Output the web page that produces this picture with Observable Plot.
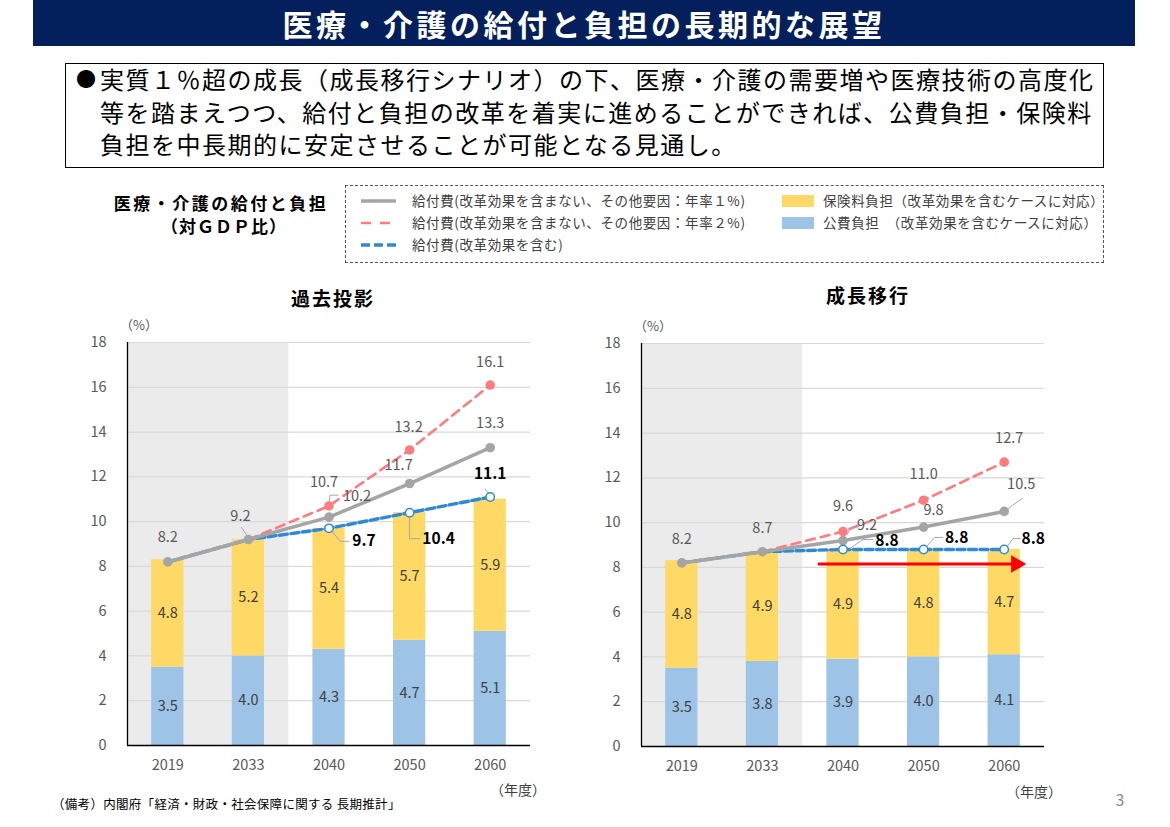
<!DOCTYPE html>
<html lang="ja">
<head>
<meta charset="utf-8">
<script src="https://cdn.jsdelivr.net/npm/d3@7"></script>
<script src="https://cdn.jsdelivr.net/npm/@observablehq/plot@0.6"></script>
<style>
  body { margin: 0; background: #fff; font-family: "Noto Sans CJK JP", "Noto Sans", sans-serif; }
  #page { position: relative; width: 1170px; height: 827px; overflow: hidden; background: #fff; }
  .t { position: absolute; white-space: nowrap; line-height: 1; }
  .c { transform: translateX(-50%); }
  #banner { position: absolute; left: 33px; top: 0; width: 1102px; height: 46px; background: #03205c;
            display: flex; align-items: center; justify-content: center; }
  #banner h1 { margin: 0; font-size: 30px; line-height: 40px; font-weight: bold; color: #fff; letter-spacing: 3.5px; white-space: nowrap; }
  #summary { position: absolute; left: 65px; top: 63px; width: 1037px; height: 103px; border: 1px solid #000; }
  #legend { position: absolute; left: 345px; top: 185px; width: 757px; height: 76px; border: 1px dashed #555; }
  .plot { position: absolute; }
</style>
</head>
<body>
<div id="page">
  <div id="banner"><h1>医療・介護の給付と負担の長期的な展望</h1></div>

  <div id="summary"></div>
  <div class="t" style="left:76px;top:69px;font-size:20px;color:#000;">●</div>
  <div class="t" style="left:100px;top:67px;font-size:24px;letter-spacing:1.5px;color:#000;">実質１％超の成長（成長移行シナリオ）の下、医療・介護の需要増や医療技術の高度化</div>
  <div class="t" style="left:100px;top:100px;font-size:24px;letter-spacing:1.5px;color:#000;">等を踏まえつつ、給付と負担の改革を着実に進めることができれば、公費負担・保険料</div>
  <div class="t" style="left:100px;top:132px;font-size:24px;letter-spacing:1.5px;color:#000;">負担を中長期的に安定させることが可能となる見通し。</div>

  <div class="t c" style="left:221px;top:194px;font-size:17px;font-weight:bold;letter-spacing:2.5px;">医療・介護の給付と負担</div>
  <div class="t c" style="left:224px;top:217px;font-size:17px;font-weight:bold;letter-spacing:1px;">（対ＧＤＰ比）</div>

  <div id="legend"></div>

  <div class="t c" style="left:333px;top:288px;font-size:19px;font-weight:bold;letter-spacing:2px;">過去投影</div>
  <div class="t c" style="left:868px;top:285px;font-size:19px;font-weight:bold;letter-spacing:2px;">成長移行</div>

  <div class="t c" style="left:139px;top:318px;font-size:13px;color:#595959;">（%）</div>
  <div class="t c" style="left:653px;top:319px;font-size:13px;color:#595959;">（%）</div>
  <div class="t c" style="left:518px;top:782px;font-size:14px;color:#404040;">（年度）</div>
  <div class="t c" style="left:1034px;top:784px;font-size:14px;color:#404040;">（年度）</div>

  <div class="t" style="left:52px;top:798px;font-size:12.5px;letter-spacing:0.3px;color:#000;">（備考）内閣府「経済・財政・社会保障に関する 長期推計」</div>
  <div class="t c" style="left:1120px;top:791px;font-size:16px;color:#8a8a8a;">3</div>
</div>

<script>
// ---- data: benefits and burdens as % of GDP ----
const years = ["2019", "2033", "2040", "2050", "2060"];
const baseYears = ["2019", "2033"];          // shaded base period
const yMax = 18;
const yTicks = [0, 2, 4, 6, 8, 10, 12, 14, 16, 18];

// 過去投影 (past-projection scenario)
const pastPublic    = [3.5, 4.0, 4.3, 4.7, 5.1];
const pastPremium   = [4.8, 5.2, 5.4, 5.7, 5.9];
const pastNoReform1 = [8.2, 9.2, 10.2, 11.7, 13.3];
const pastNoReform2 = [null, 9.2, 10.7, 13.2, 16.1];
const pastReform    = [8.2, 9.2, 9.7, 10.4, 11.1];

// 成長移行 (growth-transition scenario)
const growthPublic    = [3.5, 3.8, 3.9, 4.0, 4.1];
const growthPremium   = [4.8, 4.9, 4.9, 4.8, 4.7];
const growthNoReform1 = [8.2, 8.7, 9.2, 9.8, 10.5];
const growthNoReform2 = [null, 8.7, 9.6, 11.0, 12.7];
const growthReform    = [8.2, 8.7, 8.8, 8.8, 8.8];

// flat burden level marked by the red arrow (growth scenario)
const holdLevel = 8.15;
const holdFrom = "2040", holdTo = "2060";

// ---- styling ----
const C = {
  public: "#9dc3e6", premium: "#ffd966", shade: "#ebebeb", grid: "#d9d9d9",
  gray: "#a5a5a5", red: "#ff7b7f", blue: "#2e8ad8", leader: "#a6a6a6",
  label: "#595959", barLabel: "#404040", arrow: "#ff0000"
};

// label offsets in pixels from each point [dx, dy]
const pastLabels = {
  gray: [[0, -25], [-8, -23], [28, -21], [-11, -18], [0, -24]],
  red:  [null, null, [-5, -24], [-1, -23], [0, -23]],
  blue: [null, null, [35, 13], [29, 26], [0, -23]]
};
const pastLeaders = [
  {series: "gray", i: 1, path: [[-7, -12], [-2, -5]]},
  {series: "gray", i: 2, path: [[0, -14], [1, -22], [9, -22]]},
  {series: "blue", i: 2, path: [[4, 4], [11, 13], [20, 13]]},
  {series: "blue", i: 3, path: [[0, 5], [0, 26], [10, 26]]},
  {series: "blue", i: 4, path: [[-5, -8], [-2, -4]]}
];
const growthLabels = {
  gray: [[0, -24], [0, -23], [24, -15], [10, -17], [17, -27]],
  red:  [null, null, [0, -25], [0, -26], [5, -24]],
  blue: [null, null, [44, -8], [33, -11], [29, -10]]
};
const growthLeaders = [
  {series: "gray", i: 2, path: [[4, -6], [8, -13], [13, -13]]},
  {series: "blue", i: 2, path: [[7, -1], [20, -10], [30, -10]]},
  {series: "blue", i: 3, path: [[3, -3], [11, -12], [19, -12]]},
  {series: "gray", i: 4, path: [[4, -3], [18, -13]]},
  {series: "blue", i: 4, path: [[3, -3], [9, -11], [16, -11]]}
];

function drawChart({pub, prem, gray, red, blue, labels, leaders, left, top, arrow}) {
  const W = 500, H = 490, mt = 27, mb = 60, ml = 77, mr = 20;
  const xUnit = (W - ml - mr) / years.length;
  const yUnit = (H - mt - mb) / yMax;
  const nBase = baseYears.length;
  const series = {gray, red, blue};
  const pts = k => series[k].map((v, i) => ({i, v})).filter(p => p.v != null);

  const bars = years.flatMap((y, i) => [
    {i, part: "public", value: pub[i]},
    {i, part: "premium", value: prem[i]}
  ]);

  const labelRows = k => labels[k]
    .map((o, i) => o && {x: i + o[0] / xUnit, y: series[k][i] - o[1] / yUnit, text: series[k][i].toFixed(1)})
    .filter(Boolean);

  const leaderRows = leaders.flatMap((l, n) =>
    l.path.map(([ox, oy]) => ({k: n, x: l.i + ox / xUnit, y: series[l.series][l.i] - oy / yUnit})));

  const marks = [
    Plot.rect([baseYears], {x1: -0.5, x2: nBase - 0.5, y1: 0, y2: yMax, fill: C.shade}),
    Plot.ruleY(yTicks.filter(t => t > 0), {stroke: C.grid, strokeWidth: 1.2}),
    Plot.rectY(bars, {
      x1: d => d.i - 0.2, x2: d => d.i + 0.2, y: "value",
      fill: d => d.part === "public" ? C.public : C.premium
    }),
    Plot.text(bars, Plot.stackY({
      x: "i", y: "value", text: d => d.value.toFixed(1),
      fill: C.barLabel, fontSize: 14.5
    })),
    Plot.ruleY([0], {stroke: "#000", strokeWidth: 1.5}),
    Plot.ruleX([-0.5], {stroke: "#000", strokeWidth: 1.3}),
    Plot.line(pts("blue"), {x: "i", y: "v", stroke: C.blue, strokeWidth: 3.4, strokeDasharray: "8,3.5"}),
    Plot.line(pts("red"), {x: "i", y: "v", stroke: C.red, strokeWidth: 2.6, strokeDasharray: "9,6"}),
    Plot.line(pts("gray"), {x: "i", y: "v", stroke: C.gray, strokeWidth: 3.6}),
    Plot.line(leaderRows, {x: "x", y: "y", z: "k", stroke: C.leader, strokeWidth: 1}),
    Plot.dot(pts("gray"), {x: "i", y: "v", r: 4.8, fill: C.gray}),
    Plot.dot(pts("red").filter(p => p.i >= nBase), {x: "i", y: "v", r: 4.8, fill: C.red}),
    Plot.dot(pts("blue").filter(p => p.i >= nBase), {x: "i", y: "v", r: 4.2, fill: "#fff", stroke: C.blue, strokeWidth: 1.5}),
    Plot.text(labelRows("gray"), {x: "x", y: "y", text: "text", fill: C.label, fontSize: 14.5}),
    Plot.text(labelRows("red"), {x: "x", y: "y", text: "text", fill: C.label, fontSize: 14.5}),
    Plot.text(labelRows("blue"), {x: "x", y: "y", text: "text", fill: "#000", fontSize: 15.5, fontWeight: "bold"})
  ];

  if (arrow) {
    const x1 = years.indexOf(arrow.from), x2 = years.indexOf(arrow.to);
    marks.push(
      Plot.arrow([arrow], {x1, x2, y1: arrow.level, y2: arrow.level, stroke: C.arrow, strokeWidth: 3,
        headLength: 0, insetStart: -24, insetEnd: -8}),
      Plot.dot([arrow], {x: x2, y: arrow.level, dx: 12, symbol: "triangle", rotate: 90, r: 6.5, fill: C.arrow})
    );
  }

  const svg = Plot.plot({
    width: W, height: H,
    marginTop: mt, marginBottom: mb, marginLeft: ml, marginRight: mr,
    style: {fontFamily: '"Noto Sans CJK JP", "Noto Sans", sans-serif', fontSize: "14.5px", color: "#595959", background: "transparent", overflow: "visible"},
    x: {domain: [-0.5, years.length - 0.5], ticks: years.map((y, i) => i), tickFormat: i => years[i], tickSize: 0, tickPadding: 14, label: null},
    y: {domain: [0, yMax], ticks: yTicks, tickSize: 0, tickPadding: 21, label: null},
    marks
  });
  svg.classList.add("plot");
  svg.style.left = left + "px";
  svg.style.top = top + "px";
  document.getElementById("page").appendChild(svg);
}

drawChart({
  pub: pastPublic, prem: pastPremium,
  gray: pastNoReform1, red: pastNoReform2, blue: pastReform,
  labels: pastLabels, leaders: pastLeaders, left: 50, top: 315
});
drawChart({
  pub: growthPublic, prem: growthPremium,
  gray: growthNoReform1, red: growthNoReform2, blue: growthReform,
  labels: growthLabels, leaders: growthLeaders, left: 564, top: 316,
  arrow: {from: holdFrom, to: holdTo, level: holdLevel}
});

// ---- legend ----
const legendItems = [
  {kind: "line", color: C.gray, dash: null, width: 3.5, text: "給付費(改革効果を含まない、その他要因：年率１%)", x: 15, y: 15},
  {kind: "line", color: C.red, dash: "10,9", width: 2.6, text: "給付費(改革効果を含まない、その他要因：年率２%)", x: 15, y: 37},
  {kind: "line", color: C.blue, dash: "9,4", width: 3.4, text: "給付費(改革効果を含む)", x: 15, y: 59},
  {kind: "rect", color: C.premium, text: "保険料負担（改革効果を含むケースに対応）", x: 436, y: 15},
  {kind: "rect", color: C.public, text: "公費負担　（改革効果を含むケースに対応）", x: 436, y: 37}
];
const legend = d3.select("#legend");
for (const it of legendItems) {
  const sw = legend.append("svg")
    .style("position", "absolute").style("left", it.x + "px").style("top", (it.y - 8) + "px")
    .attr("width", 36).attr("height", 16);
  if (it.kind === "line") {
    sw.append("line").attr("x1", 0).attr("x2", 35).attr("y1", 8).attr("y2", 8)
      .attr("stroke", it.color).attr("stroke-width", it.width)
      .attr("stroke-dasharray", it.dash);
  } else {
    sw.append("rect").attr("x", 0).attr("y", 2).attr("width", 32).attr("height", 12).attr("fill", it.color);
  }
  legend.append("div").attr("class", "t")
    .style("left", (it.x + (it.kind === "line" ? 51 : 41)) + "px")
    .style("top", (it.y - 7.5) + "px")
    .style("font-size", "13.5px").style("letter-spacing", "0.6px").style("color", "#404040")
    .text(it.text);
}
</script>
</body>
</html>
